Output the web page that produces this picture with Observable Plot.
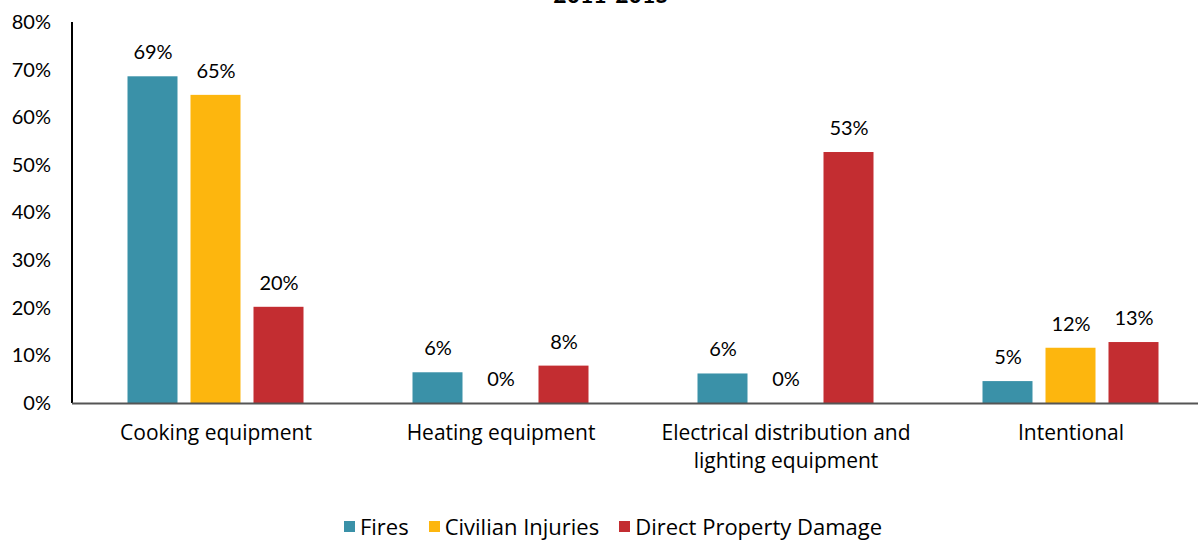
<!DOCTYPE html>
<html>
<head>
<meta charset="utf-8">
<script src="https://cdn.jsdelivr.net/npm/d3@7"></script>
<script src="https://cdn.jsdelivr.net/npm/@observablehq/plot@0.6"></script>
<style>
  html, body { margin: 0; padding: 0; background: #fff; }
  body { width: 1198px; height: 542px; overflow: hidden; position: relative; font-family: "Open Sans", Lato, sans-serif; color: #000; }
  #title { position: absolute; top: -20px; left: 611px; transform: translateX(-50%); font-weight: bold; font-size: 23px; white-space: nowrap; font-family: Lato, sans-serif; }
  #chart { position: absolute; top: 0; left: 0; }
  #legend { position: absolute; top: 512px; left: 0; width: 1226px; display: flex; justify-content: center; align-items: center; font-size: 22px; line-height: 28px; gap: 20px; }
  .item { display: flex; align-items: center; gap: 5px; }
  .sw { width: 11px; height: 11px; display: inline-block; }
</style>
</head>
<body>
<div id="title">2011-2015</div>
<div id="chart"></div>
<div id="legend"></div>
<script>
const categories = ["Cooking equipment", "Heating equipment", "Electrical distribution and lighting equipment", "Intentional"];
const tickLabels = ["Cooking equipment", "Heating equipment", "Electrical distribution and\nlighting equipment", "Intentional"];
const series = ["Fires", "Civilian Injuries", "Direct Property Damage"];
const fires = [68.6, 6.45, 6.2, 4.6];
const civilianInjuries = [64.7, 0, 0, 11.6];
const directPropertyDamage = [20.2, 7.85, 52.7, 12.8];
const yTicks = [0, 10, 20, 30, 40, 50, 60, 70, 80];
const colors = ["#3A91A8", "#FDB60E", "#C32D31"];

const seriesValues = [fires, civilianInjuries, directPropertyDamage];
const rows = [];
categories.forEach((c, i) => {
  series.forEach((s, j) => rows.push({category: c, series: s, value: seriesValues[j][i]}));
});

const plot = Plot.plot({
  width: 1198,
  height: 490,
  marginLeft: 119.5,
  marginRight: 32.5,
  marginTop: 22,
  marginBottom: 87,
  style: {fontFamily: "Lato, 'Open Sans', sans-serif", fontSize: "20px", color: "#000", background: "transparent"},
  fx: {domain: categories, paddingInner: 0.33, paddingOuter: 0, label: null, axis: null},
  x: {domain: series, paddingInner: 0.2126, paddingOuter: 0.106, axis: null},
  y: {domain: [0, 80], axis: null},
  color: {domain: series, range: colors},
  marks: [
    Plot.barY(rows, {fx: "category", x: "series", y: "value", fill: "series"}),
    Plot.text(rows, {fx: "category", x: "series", y: "value", text: d => Math.round(d.value) + "%", dy: -24, fontSize: 20, fill: "#000"}),
    Plot.axisFx({anchor: "bottom", tickSize: 0, tickPadding: 17, tickFormat: d => tickLabels[categories.indexOf(d)], lineHeight: 1.33, fontSize: 21, fontFamily: "'Open Sans', sans-serif", label: null}),
    Plot.axisY({ticks: yTicks, tickSize: 0, tickPadding: 69.5, tickFormat: d => d + "%", fontSize: 20, label: null})
  ]
});

const y = plot.scale("y");
const svg = d3.select(plot);
svg.append("line")
  .attr("x1", 72).attr("x2", 72)
  .attr("y1", y.apply(80)).attr("y2", y.apply(0))
  .attr("stroke", "#000").attr("stroke-width", 2);
svg.append("line")
  .attr("x1", 72).attr("x2", 1198)
  .attr("y1", y.apply(0) + 0.5).attr("y2", y.apply(0) + 0.5)
  .attr("stroke", "#555").attr("stroke-width", 2);

document.getElementById("chart").appendChild(plot);

const legend = d3.select("#legend");
series.forEach((s, i) => {
  const item = legend.append("div").attr("class", "item");
  item.append("span").attr("class", "sw").style("background", colors[i]);
  item.append("span").text(s);
});
</script>
</body>
</html>
